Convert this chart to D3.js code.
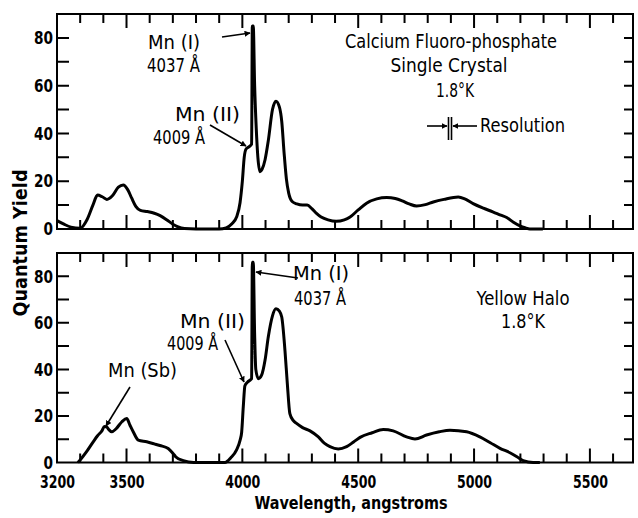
<!DOCTYPE html>
<html>
<head>
<meta charset="utf-8">
<script src="https://cdn.jsdelivr.net/npm/d3@7/dist/d3.min.js"></script>
<style>
    body { margin: 0; background: #fff; }
    text { font-family: "DejaVu Sans Condensed", "DejaVu Sans", sans-serif; font-stretch: condensed; fill: #000; }
</style>
</head>
<body>
<div id="picture"></div>
<script>
// Calcium fluoro-phosphate single crystal, 1.8 K
var topWave = [3200, 3230, 3260, 3300, 3330, 3355, 3375, 3395, 3415, 3440, 3465, 3486, 3505, 3522, 3540,
    3560, 3590, 3620, 3645, 3673, 3700, 3720, 3750, 3800, 3900, 3930, 3955, 3975, 3990, 4000, 4008, 4016,
    4030, 4040, 4043, 4047, 4053, 4060, 4067, 4076, 4085, 4098, 4112, 4130, 4145, 4160, 4170, 4180, 4190,
    4200, 4215, 4235, 4260, 4280, 4300, 4320, 4340, 4370, 4405, 4440, 4465, 4500, 4536, 4580, 4623, 4660,
    4690, 4720, 4752, 4790, 4824, 4870, 4932, 4960, 4996, 5040, 5083, 5115, 5141, 5170, 5198, 5220, 5241, 5297];
var topYield = [3.5, 2, 0.8, 0.3, 4, 10, 14.2, 13.5, 12.4, 14, 17.5, 18.4, 16.5, 13, 9.5,
    7.8, 7.3, 6.6, 5.6, 3.9, 2, 1, 0.2, 0, 0, 0.5, 2.2, 5, 11, 20, 30, 33.5,
    34.5, 35.5, 85, 85, 60, 42, 30, 24, 25, 29, 37, 50, 53.5, 51, 45, 32, 21,
    15, 11.5, 10.5, 10, 10, 8.5, 6.5, 5, 3.8, 3.2, 3.8, 5, 8, 10.8, 12.6, 13.2, 12.8,
    11.8, 10.5, 9.6, 10.2, 11.3, 12.4, 13.4, 12.6, 10.6, 8.7, 7.1, 5.8, 4.8, 2.8, 1.3, 0.5, 0, 0];

// Yellow halo, 1.8 K
var bottomWave = [3290, 3299, 3330, 3357, 3375, 3393, 3405, 3414, 3425, 3436, 3455, 3480, 3501, 3515, 3530,
    3551, 3587, 3620, 3644, 3680, 3700, 3712, 3745, 3790, 3925, 3950, 3975, 3990, 3997, 4004, 4011, 4022,
    4035, 4040, 4043, 4047, 4053, 4058, 4069, 4083, 4098, 4112, 4130, 4145, 4160, 4170, 4184, 4194, 4205,
    4220, 4234, 4260, 4292, 4328, 4355, 4378, 4414, 4450, 4480, 4508, 4560, 4608, 4651, 4709, 4745, 4795,
    4850, 4896, 4968, 5025, 5070, 5112, 5155, 5185, 5212, 5255, 5284];
var bottomYield = [0, 1, 5, 9, 11.5, 13.5, 15.5, 15.3, 14, 13.2, 14.5, 17.5, 18.9, 16, 13,
    9.6, 8.9, 8, 7.3, 6, 4, 2.5, 0.8, 0, 0, 2, 5.4, 9.5, 13, 24, 33, 34.5,
    35.5, 36, 86, 86, 55, 40, 36, 37.5, 44, 54, 63, 66, 65, 62.5, 48, 34, 21,
    18, 16.8, 15, 13.6, 11, 8.2, 6.8, 5.8, 6.8, 8.8, 10.8, 12.8, 14.2, 13.6, 11, 10.1, 11.8,
    13.2, 13.9, 13.2, 11, 8.5, 6.1, 4.2, 2.5, 0.8, 0, 0];

var xTickLabels = [3200, 3500, 4000, 4500, 5000, 5500];
var xMajorTicks = [3500, 4000, 4500, 5000, 5500];
var xMinorTicks = d3.range(3300, 5700, 100);
var yTickLabels = [0, 20, 40, 60, 80];
var yMinorTicks = [10, 20, 30, 40, 50, 60, 70, 80];

function draw() {
    "use strict";

    var width = 638, height = 518;
    var left = 57, right = 633;

    var svg = d3.select("#picture")
        .append("svg")
        .attr("width", width)
        .attr("height", height);

    var x_scale = d3.scaleLinear().domain([3200, 5686]).range([left, right]);

    var panels = [
        { top: 14, bottom: 229, wave: topWave, vals: topYield },
        { top: 253, bottom: 462.5, wave: bottomWave, vals: bottomYield }
    ];

    svg.append("defs").append("marker")
        .attr("id", "head")
        .attr("viewBox", "0 0 10 10")
        .attr("refX", 9).attr("refY", 5)
        .attr("markerWidth", 6).attr("markerHeight", 6)
        .attr("markerUnits", "userSpaceOnUse")
        .attr("orient", "auto")
        .append("path")
        .attr("d", "M0,0 L10,5 L0,10 z")
        .attr("fill", "#000");

    panels.forEach(function (p, k) {
        var y_scale = d3.scaleLinear().domain([0, 90]).range([p.bottom, p.top]);

        svg.append("rect")
            .attr("x", left)
            .attr("y", p.top)
            .attr("width", right - left)
            .attr("height", p.bottom - p.top)
            .attr("fill", "none")
            .attr("stroke", "#000")
            .attr("stroke-width", 2);

        // inward ticks on all four sides, one path
        var ticks = d3.path();
        xMinorTicks.forEach(function (d) {
            var len = xMajorTicks.indexOf(d) >= 0 ? 14 : 9;
            ticks.moveTo(x_scale(d), p.top);
            ticks.lineTo(x_scale(d), p.top + len);
            ticks.moveTo(x_scale(d), p.bottom);
            ticks.lineTo(x_scale(d), p.bottom - len);
        });
        yMinorTicks.forEach(function (d) {
            ticks.moveTo(left, y_scale(d));
            ticks.lineTo(left + 12, y_scale(d));
            ticks.moveTo(right, y_scale(d));
            ticks.lineTo(right - 9, y_scale(d));
        });
        svg.append("path")
            .attr("d", ticks.toString())
            .attr("fill", "none")
            .attr("stroke", "#000")
            .attr("stroke-width", 2);

        var yl = svg.append("g")
            .attr("transform", "translate(" + left + ",0)")
            .call(d3.axisLeft(y_scale).tickValues(yTickLabels).tickSize(0).tickPadding(4));
        yl.select(".domain").remove();
        yl.selectAll("text")
            .attr("font-size", 18)
            .attr("font-weight", "bold")
            .attr("fill", "#000")
            .attr("textLength", function (d) { return String(d).length * 9.5; })
            .attr("lengthAdjust", "spacingAndGlyphs");

        if (k === 1) {
            var xl = svg.append("g")
                .attr("transform", "translate(0," + p.bottom + ")")
                .call(d3.axisBottom(x_scale).tickValues(xTickLabels).tickFormat(d3.format("d"))
                    .tickSize(0).tickPadding(13));
            xl.select(".domain").remove();
            xl.selectAll("text")
                .attr("font-size", 18)
                .attr("font-weight", "bold")
                .attr("fill", "#000")
                .attr("textLength", 35)
                .attr("lengthAdjust", "spacingAndGlyphs");
        }

        var line = d3.line()
            .x(function (d) { return x_scale(d[0]); })
            .y(function (d) { return y_scale(d[1]); })
            .curve(d3.curveMonotoneX);

        svg.append("path")
            .attr("d", line(d3.zip(p.wave, p.vals)))
            .attr("fill", "none")
            .attr("stroke", "#000")
            .attr("stroke-width", 3)
            .attr("stroke-linejoin", "round");
    });

    // annotations
    function label(txt, x, y, w, anchor, size) {
        svg.append("text")
            .attr("x", x).attr("y", y)
            .attr("text-anchor", anchor || "start")
            .attr("font-size", size || 19)
            .attr("textLength", w)
            .attr("lengthAdjust", "spacingAndGlyphs")
            .text(txt);
    }
    function arrow(x1, y1, x2, y2) {
        svg.append("line")
            .attr("x1", x1).attr("y1", y1)
            .attr("x2", x2).attr("y2", y2)
            .attr("stroke", "#000")
            .attr("stroke-width", 1.6)
            .attr("marker-end", "url(#head)");
    }

    label("Mn (I)", 148, 49, 52);
    label("4037 Å", 147, 72, 53);
    arrow(222, 37, 250, 33);
    label("Mn (II)", 175, 121, 65);
    label("4009 Å", 153, 144, 52);
    arrow(210, 125, 246, 146);

    label("Calcium Fluoro-phosphate", 451, 48, 212, "middle", 20);
    label("Single Crystal", 449, 72, 117, "middle", 20);
    label("1.8°K", 455, 97, 38, "middle", 20);
    arrow(427, 126, 447, 126);
    arrow(477, 126, 453, 126);
    svg.append("line").attr("x1", 448.5).attr("x2", 448.5).attr("y1", 117).attr("y2", 140)
        .attr("stroke", "#000").attr("stroke-width", 1.6);
    svg.append("line").attr("x1", 451.5).attr("x2", 451.5).attr("y1", 117).attr("y2", 140)
        .attr("stroke", "#000").attr("stroke-width", 1.6);
    label("Resolution", 480, 132, 85, "start", 20);

    label("Mn (I)", 293, 280, 56);
    label("4037 Å", 294, 305, 52);
    arrow(298, 278, 256, 272);
    label("Mn (II)", 180, 328, 65);
    label("4009 Å", 167, 350, 51);
    arrow(225, 340, 244, 382);
    label("Mn (Sb)", 108, 377, 69);
    arrow(130, 387, 106, 426);

    label("Yellow Halo", 523, 305, 93, "middle", 20);
    label("1.8°K", 523, 328, 44, "middle", 20);

    svg.append("text")
        .attr("transform", "translate(27,243) rotate(-90)")
        .attr("text-anchor", "middle")
        .attr("font-size", 19)
        .attr("font-weight", "bold")
        .attr("textLength", 147)
        .attr("lengthAdjust", "spacingAndGlyphs")
        .text("Quantum Yield");

    svg.append("text")
        .attr("x", 351)
        .attr("y", 509)
        .attr("text-anchor", "middle")
        .attr("font-size", 18)
        .attr("font-weight", "bold")
        .attr("textLength", 193)
        .attr("lengthAdjust", "spacingAndGlyphs")
        .text("Wavelength, angstroms");
}

draw();
</script>
</body>
</html>
